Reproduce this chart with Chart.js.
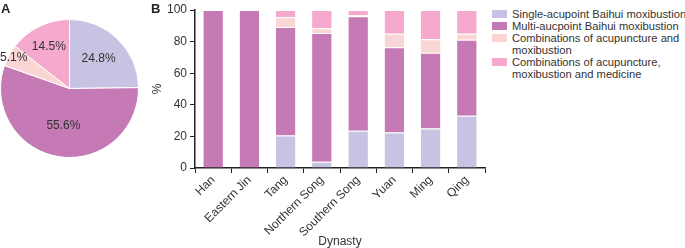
<!DOCTYPE html>
<html>
<head>
<meta charset="utf-8">
<script src="https://cdn.jsdelivr.net/npm/chart.js@4.4.0/dist/chart.umd.min.js"></script>
<style>
    body { margin: 0; width: 685px; height: 248px; background: #fff; font-family: "Liberation Sans", Arial, sans-serif; overflow: hidden; }
    .wrap { position: relative; width: 685px; height: 248px; }
    .panel-label { position: absolute; font-weight: bold; font-size: 13px; color: #222; top: 1px; }
    #pie-box { position: absolute; left: 0; top: 0; width: 150px; height: 248px; }
    #bar-box { position: absolute; left: 140px; top: 0; width: 350px; height: 248px; }
    #legend { position: absolute; left: 492px; top: 8px; font-size: 11.2px; color: #333; line-height: 12px; white-space: nowrap; }
    .legend-item { display: flex; align-items: flex-start; }
    .legend-color { width: 15px; height: 8px; margin: 2px 5px 0 0; flex: none; }
</style>
</head>
<body>
<div class="wrap">
    <div id="pie-box"><canvas id="pie-chart"></canvas></div>
    <div id="bar-box"><canvas id="bar-chart"></canvas></div>
    <div class="panel-label" style="left:1px">A</div>
    <div class="panel-label" style="left:151px">B</div>
    <div id="legend"></div>
</div>
<script>
const seriesNames = [
    'Single-acupoint Baihui moxibustion',
    'Multi-aucpoint Baihui moxibustion',
    'Combinations of acupuncture and moxibustion',
    'Combinations of acupuncture, moxibustion and medicine'
];
const legendLines = [
    ['Single-acupoint Baihui moxibustion'],
    ['Multi-aucpoint Baihui moxibustion'],
    ['Combinations of acupuncture and', 'moxibustion'],
    ['Combinations of acupuncture,', 'moxibustion and medicine']
];
const colors = ['#c6c4e2', '#c67ab5', '#f9d5d3', '#f5a9cc'];

// panel A: overall share (%)
const pieValues = [24.8, 55.6, 5.1, 14.5];

// panel B: share per dynasty (%)
const dynasties = ['Han', 'Eastern Jin', 'Tang', 'Northern Song', 'Southern Song', 'Yuan', 'Ming', 'Qing'];
const singleBaihui = [0, 0, 20.6, 4, 23.5, 22.5, 25, 33];
const multiBaihui = [100, 100, 68.6, 81.5, 72.5, 54, 48, 48.2];
const acuMox = [0, 0, 6.2, 3, 0.8, 8.5, 8.5, 3.8];
const acuMoxMed = [0, 0, 4.6, 11.5, 3.2, 15, 18.5, 15];
const yTicks = [0, 20, 40, 60, 80, 100];

Chart.defaults.font.family = '"Liberation Sans", Arial, sans-serif';
Chart.defaults.color = '#333';

const pieLabelPlugin = {
    id: 'pieLabels',
    afterDatasetsDraw(chart) {
        const ctx = chart.ctx;
        const meta = chart.getDatasetMeta(0);
        const radiusFrac = [0.6, 0.54, 0.92, 0.68];
        ctx.save();
        ctx.font = '12px "Liberation Sans", Arial, sans-serif';
        ctx.fillStyle = '#333';
        ctx.textAlign = 'center';
        ctx.textBaseline = 'middle';
        meta.data.forEach((arc, i) => {
            const mid = (arc.startAngle + arc.endAngle) / 2;
            const r = arc.outerRadius * radiusFrac[i];
            ctx.fillText(pieValues[i].toFixed(1) + '%', arc.x + Math.cos(mid) * r, arc.y + Math.sin(mid) * r);
        });
        ctx.restore();
    }
};

function displayPie() {
    const ctx = document.getElementById('pie-chart').getContext('2d');
    new Chart(ctx, {
        type: 'pie',
        data: {
            labels: seriesNames,
            datasets: [{
                data: pieValues,
                backgroundColor: colors,
                borderColor: '#fff',
                borderWidth: 1
            }]
        },
        options: {
            responsive: true,
            maintainAspectRatio: false,
            animation: false,
            layout: { padding: { left: 0, top: 19, right: 11, bottom: 90 } },
            plugins: { legend: { display: false }, tooltip: { enabled: false } }
        },
        plugins: [pieLabelPlugin]
    });
}

function displayBars() {
    const series = [singleBaihui, multiBaihui, acuMox, acuMoxMed];
    const ctx = document.getElementById('bar-chart').getContext('2d');
    new Chart(ctx, {
        type: 'bar',
        data: {
            labels: dynasties,
            datasets: series.map((values, i) => ({
                label: seriesNames[i],
                data: values,
                backgroundColor: colors[i],
                borderColor: '#fff',
                borderWidth: { top: 1, bottom: 0, left: 0, right: 0 },
                borderSkipped: false,
                barPercentage: 0.54,
                categoryPercentage: 1
            }))
        },
        options: {
            responsive: true,
            maintainAspectRatio: false,
            animation: false,
            layout: { padding: { top: 10, right: 5, left: 0, bottom: 0 } },
            plugins: { legend: { display: false }, tooltip: { enabled: false } },
            scales: {
                x: {
                    stacked: true,
                    afterFit: scale => { scale.height = 80; scale.paddingLeft = 0; scale.paddingRight = 0; },
                    grid: { display: true, drawOnChartArea: false, offset: true, color: '#222', tickLength: 5, tickWidth: 1 },
                    border: { display: true, color: '#222', width: 1.5 },
                    ticks: { color: '#333', font: { size: 12 }, minRotation: 45, maxRotation: 45, padding: 0 },
                    title: { display: true, text: 'Dynasty', color: '#333', font: { size: 12, lineHeight: 1 }, padding: { top: 0, bottom: 0 } }
                },
                y: {
                    stacked: true,
                    min: 0,
                    max: 100,
                    afterFit: scale => { scale.width = 55; scale.paddingTop = 0; scale.paddingBottom = 0; },
                    afterBuildTicks: scale => { scale.ticks = yTicks.map(v => ({ value: v })); },
                    grid: { display: true, drawOnChartArea: false, color: '#222', tickLength: 5, tickWidth: 1 },
                    border: { display: true, color: '#222', width: 1.5 },
                    ticks: { color: '#333', font: { size: 12 }, padding: 3 },
                    title: { display: true, text: '%', color: '#333', font: { size: 12 }, padding: { top: 10, bottom: 0 } }
                }
            }
        }
    });
}

function createLegend() {
    const legendElement = document.getElementById('legend');
    legendLines.forEach((lines, i) => {
        const item = document.createElement('div');
        item.className = 'legend-item';
        const box = document.createElement('div');
        box.className = 'legend-color';
        box.style.backgroundColor = colors[i];
        const text = document.createElement('span');
        text.innerHTML = lines.join('<br>');
        item.appendChild(box);
        item.appendChild(text);
        legendElement.appendChild(item);
    });
}

displayPie();
displayBars();
createLegend();
</script>
</body>
</html>
